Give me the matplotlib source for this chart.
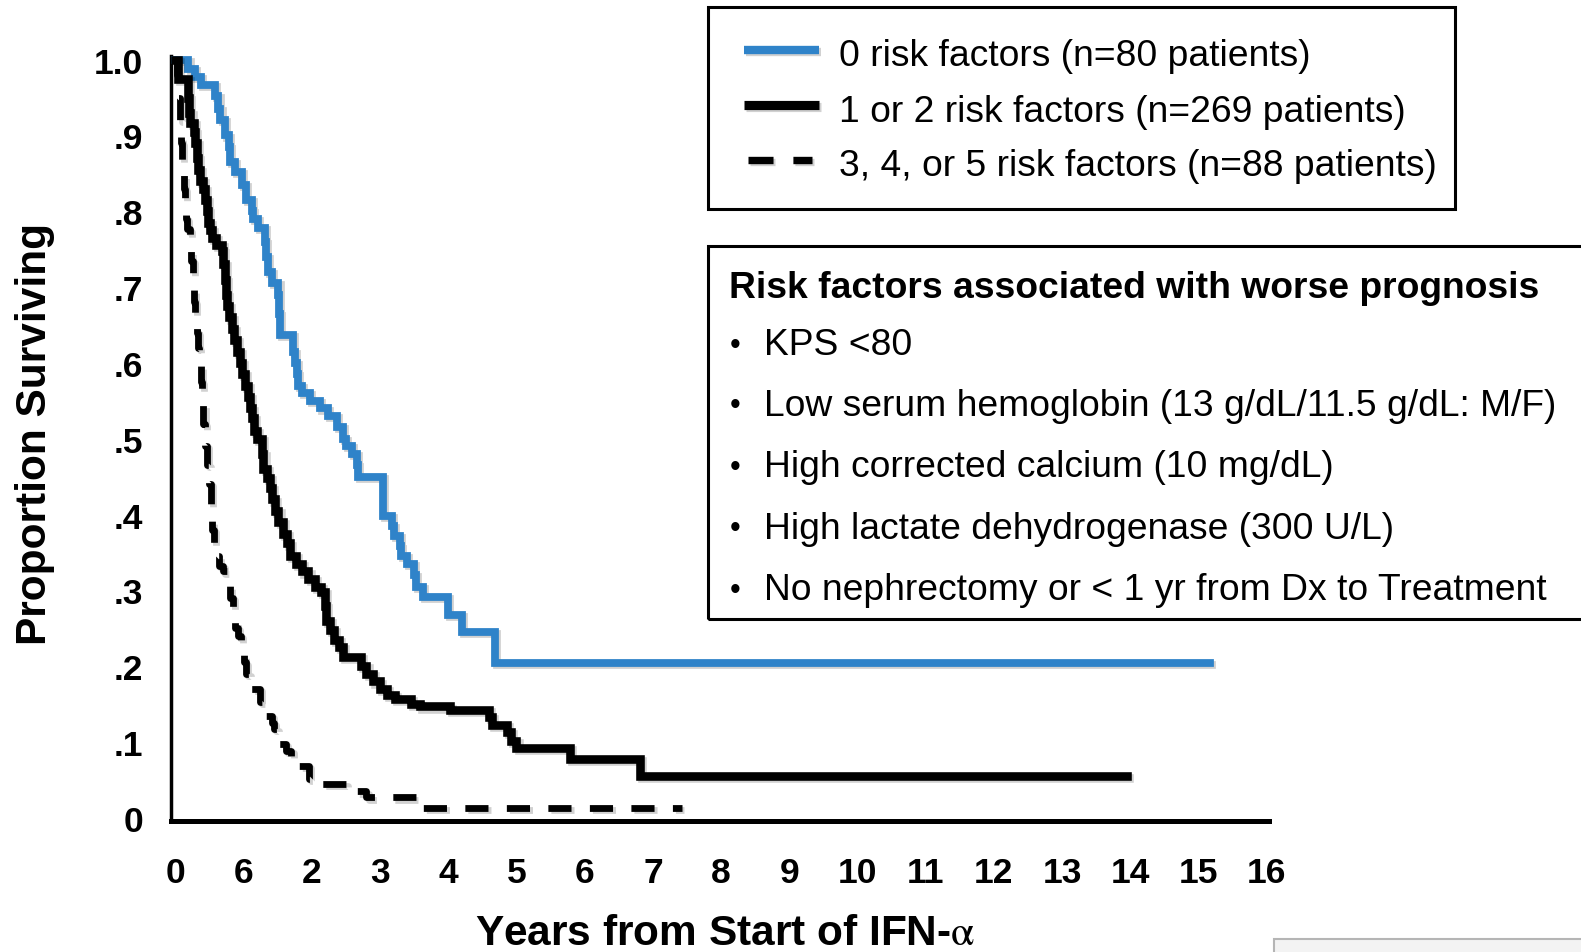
import matplotlib
matplotlib.use('Agg')
import matplotlib.pyplot as plt
from matplotlib import patheffects as pe
from matplotlib.patches import Rectangle
from matplotlib.lines import Line2D

plt.rcParams['font.family'] = ['Liberation Sans', 'DejaVu Sans']
plt.rcParams['mathtext.fontset'] = 'stix'

# ---------------- data ----------------
years_0rf = [0, 0.19, 0.29, 0.38, 0.58, 0.63, 0.66, 0.73, 0.78, 0.80, 0.87, 0.98, 1.03,
             1.12, 1.14, 1.21, 1.31, 1.33, 1.36, 1.41, 1.51, 1.52, 1.53, 1.72, 1.75, 1.78,
             1.80, 1.85, 1.97, 2.12, 2.24, 2.37, 2.46, 2.50, 2.59, 2.66, 2.68, 3.04, 3.17,
             3.20, 3.29, 3.31, 3.39, 3.50, 3.53, 3.63, 3.99, 4.20, 4.68, 15.17]
surv_0rf = [1.0, 0.988, 0.977, 0.966, 0.952, 0.935, 0.92, 0.90, 0.885, 0.865, 0.852, 0.835,
            0.815, 0.80, 0.79, 0.778, 0.76, 0.74, 0.72, 0.705, 0.69, 0.665, 0.637, 0.615,
            0.60, 0.585, 0.57, 0.56, 0.55, 0.54, 0.53, 0.515, 0.50, 0.49, 0.48, 0.465, 0.45,
            0.398, 0.385, 0.372, 0.358, 0.345, 0.335, 0.32, 0.305, 0.291, 0.268, 0.245,
            0.204, 0.204]

years_12rf = [0, 0.03, 0.18, 0.20, 0.22, 0.27, 0.29, 0.31, 0.33, 0.36, 0.40, 0.43, 0.46,
              0.48, 0.50, 0.53, 0.60, 0.68, 0.70, 0.72, 0.74, 0.76, 0.79, 0.83, 0.86, 0.90,
              0.94, 0.98, 1.02, 1.06, 1.09, 1.12, 1.15, 1.19, 1.27, 1.29, 1.34, 1.38, 1.41,
              1.46, 1.51, 1.57, 1.64, 1.68, 1.76, 1.86, 1.95, 2.04, 2.13, 2.19, 2.21, 2.27,
              2.33, 2.40, 2.46, 2.72, 2.80, 2.90, 3.00, 3.10, 3.22, 3.45, 3.58, 4.02, 4.60,
              4.64, 4.86, 4.92, 5.00, 5.78, 6.81, 13.95]
surv_12rf = [1.0, 0.975, 0.95, 0.93, 0.917, 0.905, 0.89, 0.87, 0.855, 0.84, 0.83, 0.815,
             0.80, 0.785, 0.775, 0.765, 0.755, 0.748, 0.73, 0.71, 0.69, 0.675, 0.66, 0.645,
             0.63, 0.615, 0.60, 0.585, 0.57, 0.555, 0.54, 0.527, 0.51, 0.50, 0.48, 0.46,
             0.448, 0.435, 0.42, 0.405, 0.39, 0.375, 0.362, 0.345, 0.335, 0.325, 0.315,
             0.305, 0.298, 0.28, 0.26, 0.248, 0.235, 0.225, 0.212, 0.20, 0.19, 0.18, 0.17,
             0.162, 0.157, 0.15, 0.147, 0.142, 0.133, 0.123, 0.113, 0.102, 0.092, 0.078,
             0.055, 0.055]

years_345rf = [0, 0.02, 0.04, 0.06, 0.08, 0.10, 0.12, 0.14, 0.16, 0.17, 0.21, 0.23, 0.25,
               0.27, 0.29, 0.31, 0.33, 0.35, 0.37, 0.39, 0.41, 0.43, 0.46, 0.49, 0.52, 0.54,
               0.57, 0.60, 0.64, 0.70, 0.76, 0.80, 0.84, 0.88, 0.92, 0.96, 1.00, 1.04, 1.08,
               1.24, 1.28, 1.41, 1.45, 1.49, 1.62, 1.70, 1.77, 1.96, 2.02, 2.50, 2.80, 3.59,
               7.43]
surv_345rf = [1.0, 0.98, 0.95, 0.92, 0.89, 0.86, 0.83, 0.81, 0.79, 0.776, 0.76, 0.735, 0.71,
              0.68, 0.66, 0.64, 0.62, 0.60, 0.575, 0.55, 0.52, 0.49, 0.465, 0.44, 0.41,
              0.38, 0.36, 0.345, 0.332, 0.325, 0.32, 0.29, 0.268, 0.25, 0.24, 0.22, 0.205,
              0.19, 0.17, 0.153, 0.135, 0.125, 0.117, 0.097, 0.088, 0.082, 0.068, 0.051,
              0.045, 0.035, 0.027, 0.013, 0.013]

series_labels = ['0 risk factors (n=80 patients)',
                 '1 or 2 risk factors (n=269 patients)',
                 '3, 4, or 5 risk factors (n=88 patients)']
x_ticks = list(range(17))
x_tick_labels = ['0', '6', '2', '3', '4', '5', '6', '7', '8', '9', '10', '11', '12',
                 '13', '14', '15', '16']
y_ticks = [0, 0.1, 0.2, 0.3, 0.4, 0.5, 0.6, 0.7, 0.8, 0.9, 1.0]
y_tick_labels = ['0', '.1', '.2', '.3', '.4', '.5', '.6', '.7', '.8', '.9', '1.0']
box_title = 'Risk factors associated with worse prognosis'
box_items = ['KPS <80',
             'Low serum hemoglobin (13 g/dL/11.5 g/dL: M/F)',
             'High corrected calcium (10 mg/dL)',
             'High lactate dehydrogenase (300 U/L)',
             'No nephrectomy or < 1 yr from Dx to Treatment']

# ---------------- figure ----------------
W, H = 1581, 953
fig = plt.figure(figsize=(W / 100, H / 100), dpi=100)


def fx(p):
    return p / W


def fy(p):
    return 1 - p / H


L, R, B, T = 171.4, 1268.6, 822.0, 56.8
ax = fig.add_axes([fx(L), fy(B), (R - L) / W, (B - T) / H])
ax.set_xlim(-0.06, 16.03)
ax.set_ylim(-0.004, 1.005)

BLUE = '#2f83c9'
shadow = [pe.SimpleLineShadow(offset=(1.5, -1.5), shadow_color='k', alpha=0.18), pe.Normal()]

styles = [dict(color=BLUE, lw=5.6, ls='-'),
          dict(color='black', lw=6.2, ls='-'),
          dict(color='black', lw=4.9, ls=(0, (3.4, 2.7)))]
data = [(years_0rf, surv_0rf), (years_12rf, surv_12rf), (years_345rf, surv_345rf)]
for (t, s), st, lab in zip(data, styles, series_labels):
    ax.plot(t, s, drawstyle='steps-post', color=st['color'], lw=st['lw'], ls=st['ls'],
            solid_joinstyle='miter', dash_capstyle='butt', clip_on=False,
            path_effects=shadow, label=lab, zorder=3)

for sp in ['top', 'right']:
    ax.spines[sp].set_visible(False)
ax.spines['left'].set_linewidth(2.5)
ax.spines['bottom'].set_linewidth(3.6)

ax.set_xticks(x_ticks)
ax.set_xticklabels(x_tick_labels, fontsize=25.5, fontweight='bold')
ax.set_yticks(y_ticks)
ax.set_yticklabels(y_tick_labels, fontsize=25.5, fontweight='bold')
ax.tick_params(axis='x', length=0, pad=25)
ax.tick_params(axis='y', length=0, pad=20.4)

ax.set_xlabel(r'Years from Start of IFN-$\mathrm{\alpha}$', fontsize=30.5, fontweight='bold')
ax.set_ylabel('Proportion Surviving', fontsize=30.5, fontweight='bold')
ax.xaxis.set_label_coords((725 - L) / (R - L), (B - 934) / (B - T))
ax.yaxis.set_label_coords((35.3 - L) / (R - L), (B - 433.6) / (B - T))
ax.xaxis.label.set_va('center')
ax.yaxis.label.set_va('center')

# ---------------- legend box ----------------
fig.add_artist(Rectangle((fx(708), fy(209.7)), fx(1455) - fx(708), (209.7 - 8) / H,
                         transform=fig.transFigure, fill=False, lw=2.2, ec='black'))
leg_rows = [56.5, 112.0, 166.4]
leg_line_y = [50.5, 106.0, 161.0]
for i, (st, lab) in enumerate(zip(styles, series_labels)):
    x0 = 744 if i < 2 else 748
    x1 = 819 if i < 2 else 812
    fig.add_artist(Line2D([fx(x0), fx(x1)], [fy(leg_line_y[i])] * 2, transform=fig.transFigure,
                          color=st['color'], lw=st['lw'] + 0.4, ls=st['ls'],
                          solid_capstyle='butt', dash_capstyle='butt', path_effects=shadow))
    fig.text(fx(839), fy(leg_rows[i]), lab, fontsize=26.8, va='center', ha='left')

# ---------------- risk factor box ----------------
fig.add_artist(Rectangle((fx(708), fy(620)), 0.6, (620 - 247) / H,
                         transform=fig.transFigure, fill=False, lw=2.2, ec='black'))
fig.text(fx(729), fy(288.4), box_title, fontsize=26.8, fontweight='bold', va='center', ha='left')
item_rows = [345.8, 406.3, 467.8, 529.3, 590.8]
for yy, item in zip(item_rows, box_items):
    fig.text(fx(735), fy(yy), '\u2022', fontsize=22, va='center', ha='center')
    fig.text(fx(764), fy(yy), item, fontsize=26.8, va='center', ha='left')

# faint box at bottom right
fig.add_artist(Rectangle((fx(1273.5), fy(990)), 0.3, (990 - 940) / H,
                         transform=fig.transFigure, fc='#f3f3f3', lw=1.5, ec='#b5b5b5'))

fig.savefig('out.png', dpi=100)
